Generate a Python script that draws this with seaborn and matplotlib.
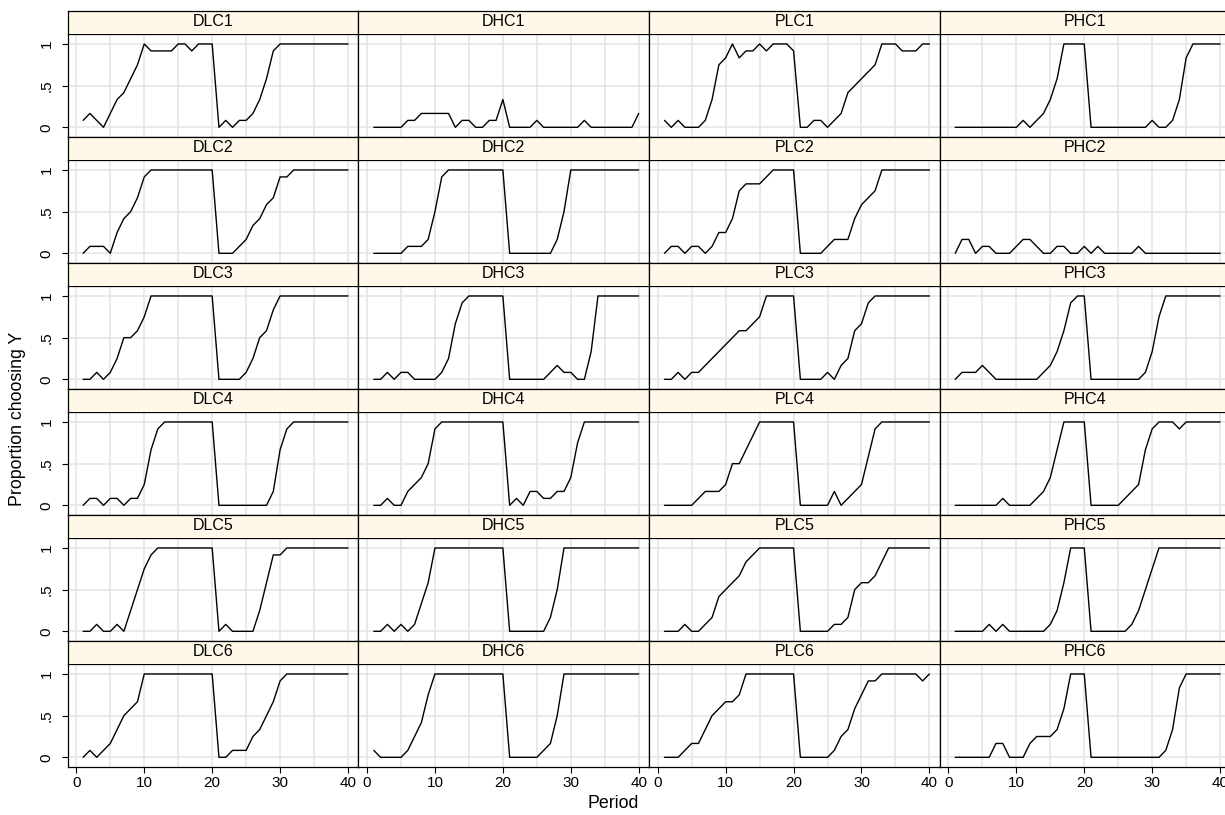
import matplotlib
matplotlib.use("Agg")
import matplotlib.pyplot as plt
import seaborn as sns
import pandas as pd

# ---------------- data (number of the 12 subjects choosing Y, per period) ----
GROUP_SIZE = 12
periods = list(range(1, 41))
treatments = ["DLC", "DHC", "PLC", "PHC"]
sessions = [1, 2, 3, 4, 5, 6]
xtick_labels = ["0", "10", "20", "30", "40"]
ytick_labels = ["0", ".5", "1"]

DLC1 = [1,2,1,0,2,4,5,7,9,12, 11,11,11,11,12,12,11,12,12,12, 0,1,0,1,1,2,4,7,11,12, 12,12,12,12,12,12,12,12,12,12]
DHC1 = [0,0,0,0,0,1,1,2,2,2, 2,2,0,1,1,0,0,1,1,4, 0,0,0,0,1,0,0,0,0,0, 0,1,0,0,0,0,0,0,0,2]
PLC1 = [1,0,1,0,0,0,1,4,9,10, 12,10,11,11,12,11,12,12,12,11, 0,0,1,1,0,1,2,5,6,7, 8,9,12,12,12,11,11,11,12,12]
PHC1 = [0,0,0,0,0,0,0,0,0,0, 1,0,1,2,4,7,12,12,12,12, 0,0,0,0,0,0,0,0,0,1, 0,0,1,4,10,12,12,12,12,12]

DLC2 = [0,1,1,1,0,3,5,6,8,11, 12,12,12,12,12,12,12,12,12,12, 0,0,0,1,2,4,5,7,8,11, 11,12,12,12,12,12,12,12,12,12]
DHC2 = [0,0,0,0,0,1,1,1,2,6, 11,12,12,12,12,12,12,12,12,12, 0,0,0,0,0,0,0,2,6,12, 12,12,12,12,12,12,12,12,12,12]
PLC2 = [0,1,1,0,1,1,0,1,3,3, 5,9,10,10,10,11,12,12,12,12, 0,0,0,0,1,2,2,2,5,7, 8,9,12,12,12,12,12,12,12,12]
PHC2 = [0,2,2,0,1,1,0,0,0,1, 2,2,1,0,0,1,1,0,0,1, 0,1,0,0,0,0,0,1,0,0, 0,0,0,0,0,0,0,0,0,0]

DLC3 = [0,0,1,0,1,3,6,6,7,9, 12,12,12,12,12,12,12,12,12,12, 0,0,0,0,1,3,6,7,10,12, 12,12,12,12,12,12,12,12,12,12]
DHC3 = [0,0,1,0,1,1,0,0,0,0, 1,3,8,11,12,12,12,12,12,12, 0,0,0,0,0,0,1,2,1,1, 0,0,4,12,12,12,12,12,12,12]
PLC3 = [0,0,1,0,1,1,2,3,4,5, 6,7,7,8,9,12,12,12,12,12, 0,0,0,0,1,0,2,3,7,8, 11,12,12,12,12,12,12,12,12,12]
PHC3 = [0,1,1,1,2,1,0,0,0,0, 0,0,0,1,2,4,7,11,12,12, 0,0,0,0,0,0,0,0,1,4, 9,12,12,12,12,12,12,12,12,12]

DLC4 = [0,1,1,0,1,1,0,1,1,3, 8,11,12,12,12,12,12,12,12,12, 0,0,0,0,0,0,0,0,2,8, 11,12,12,12,12,12,12,12,12,12]
DHC4 = [0,0,1,0,0,2,3,4,6,11, 12,12,12,12,12,12,12,12,12,12, 0,1,0,2,2,1,1,2,2,4, 9,12,12,12,12,12,12,12,12,12]
PLC4 = [0,0,0,0,0,1,2,2,2,3, 6,6,8,10,12,12,12,12,12,12, 0,0,0,0,0,2,0,1,2,3, 7,11,12,12,12,12,12,12,12,12]
PHC4 = [0,0,0,0,0,0,0,1,0,0, 0,0,1,2,4,8,12,12,12,12, 0,0,0,0,0,1,2,3,8,11, 12,12,12,11,12,12,12,12,12,12]

DLC5 = [0,0,1,0,0,1,0,3,6,9, 11,12,12,12,12,12,12,12,12,12, 0,1,0,0,0,0,3,7,11,11, 12,12,12,12,12,12,12,12,12,12]
DHC5 = [0,0,1,0,1,0,1,4,7,12, 12,12,12,12,12,12,12,12,12,12, 0,0,0,0,0,0,2,6,12,12, 12,12,12,12,12,12,12,12,12,12]
PLC5 = [0,0,0,1,0,0,1,2,5,6, 7,8,10,11,12,12,12,12,12,12, 0,0,0,0,0,1,1,2,6,7, 7,8,10,12,12,12,12,12,12,12]
PHC5 = [0,0,0,0,0,1,0,1,0,0, 0,0,0,0,1,3,7,12,12,12, 0,0,0,0,0,0,1,3,6,9, 12,12,12,12,12,12,12,12,12,12]

DLC6 = [0,1,0,1,2,4,6,7,8,12, 12,12,12,12,12,12,12,12,12,12, 0,0,1,1,1,3,4,6,8,11, 12,12,12,12,12,12,12,12,12,12]
DHC6 = [1,0,0,0,0,1,3,5,9,12, 12,12,12,12,12,12,12,12,12,12, 0,0,0,0,0,1,2,6,12,12, 12,12,12,12,12,12,12,12,12,12]
PLC6 = [0,0,0,1,2,2,4,6,7,8, 8,9,12,12,12,12,12,12,12,12, 0,0,0,0,0,1,3,4,7,9, 11,11,12,12,12,12,12,12,11,12]
PHC6 = [0,0,0,0,0,0,2,2,0,0, 0,2,3,3,3,4,7,12,12,12, 0,0,0,0,0,0,0,0,0,0, 0,1,4,10,12,12,12,12,12,12]

counts = {
    "DLC1": DLC1, "DHC1": DHC1, "PLC1": PLC1, "PHC1": PHC1,
    "DLC2": DLC2, "DHC2": DHC2, "PLC2": PLC2, "PHC2": PHC2,
    "DLC3": DLC3, "DHC3": DHC3, "PLC3": PLC3, "PHC3": PHC3,
    "DLC4": DLC4, "DHC4": DHC4, "PLC4": PLC4, "PHC4": PHC4,
    "DLC5": DLC5, "DHC5": DHC5, "PLC5": PLC5, "PHC5": PHC5,
    "DLC6": DLC6, "DHC6": DHC6, "PLC6": PLC6, "PHC6": PHC6,
}

records = []
for name, vals in counts.items():
    for p, c in zip(periods, vals):
        records.append((name, p, c / GROUP_SIZE))
df = pd.DataFrame(records, columns=["panel", "period", "prop"])

# ---------------- style ----------------
sns.set_style("white")
plt.rcParams["font.family"] = ["Liberation Sans", "DejaVu Sans"]
plt.rcParams["text.color"] = "black"
plt.rcParams["axes.labelcolor"] = "black"
plt.rcParams["xtick.color"] = "black"
plt.rcParams["ytick.color"] = "black"
plt.rcParams["xtick.labelcolor"] = "black"
plt.rcParams["ytick.labelcolor"] = "black"

GRID = "#E6E6E6"
STRIP = "#FFF8E8"

W, H = 1225, 815
fig = plt.figure(figsize=(W / 100, H / 100), dpi=100)
fig.patch.set_facecolor("white")

col_left = [67.5, 358.2, 648.9, 939.6]
pw = 290.7
ax_h = 102.7
row_pitch = 126.0
strip_h = row_pitch - ax_h
first_ax_top = 34.3

for r, s in enumerate(sessions):
    for c, t in enumerate(treatments):
        name = f"{t}{s}"
        top = first_ax_top + r * row_pitch
        ax = fig.add_axes([col_left[c] / W, 1 - (top + ax_h) / H, pw / W, ax_h / H])
        sub = df[df["panel"] == name]
        sns.lineplot(data=sub, x="period", y="prop", ax=ax, color="black",
                     linewidth=1.0, estimator=None, zorder=3)
        ax.set_xlim(-1.3, 41.5)
        ax.set_ylim(-0.116, 1.116)
        ax.set_xticks([0, 10, 20, 30, 40])
        ax.set_xticks([5, 15, 25, 35], minor=True)
        ax.set_yticks([0, 0.5, 1])
        ax.grid(True, which="both", color=GRID, linewidth=1.2, zorder=0)
        ax.set_axisbelow(True)
        ax.set_xlabel("")
        ax.set_ylabel("")
        for sp in ax.spines.values():
            sp.set_color("black")
            sp.set_linewidth(0.9)
            sp.set_visible(True)
        ax.tick_params(which="minor", length=0)
        if r == len(sessions) - 1:
            ax.set_xticklabels(xtick_labels)
            ax.tick_params(axis="x", which="major", length=4, width=0.8,
                           color="black", labelcolor="black", direction="out",
                           labelsize=11, pad=2.5, bottom=True)
        else:
            ax.tick_params(axis="x", which="major", length=0, labelbottom=False)
        if c == 0:
            ax.set_yticklabels(ytick_labels, rotation=90, va="center")
            ax.tick_params(axis="y", length=4, width=0.8, color="black",
                           labelcolor="black", direction="out", labelsize=11,
                           pad=6, left=True)
        else:
            ax.tick_params(axis="y", length=0, labelleft=False)

        sax = fig.add_axes([col_left[c] / W, 1 - top / H, pw / W, strip_h / H])
        sax.set_facecolor(STRIP)
        sax.set_xticks([])
        sax.set_yticks([])
        for key, sp in sax.spines.items():
            sp.set_color("black")
            sp.set_linewidth(0.9)
            sp.set_visible(key != "bottom")
        sax.text(0.5, 0.53, name, ha="center", va="center", fontsize=11.5,
                 color="black", transform=sax.transAxes)

fig.text(613 / W, 1 - 803 / H, "Period", ha="center", va="center",
         fontsize=12.8, color="black")
fig.text(18 / W, 1 - 419 / H, "Proportion choosing Y", ha="center", va="center",
         rotation=90, fontsize=12.8, color="black")

fig.savefig("out.png", dpi=100, facecolor="white")
